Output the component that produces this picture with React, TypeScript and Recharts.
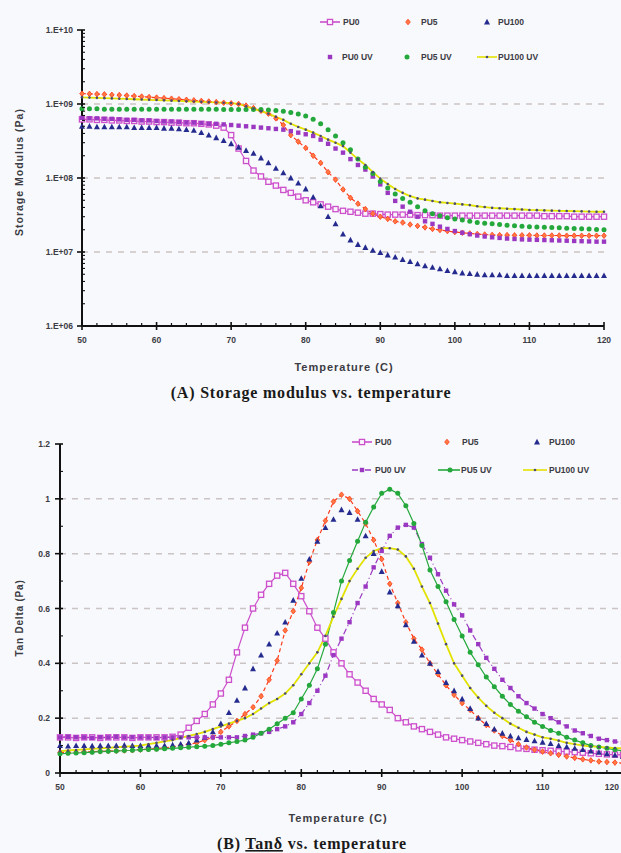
import React from "react";
import { LineChart, Line, XAxis, YAxis, ReferenceLine } from "recharts";

// temperature (C), one reading per degree
const TEMPS = [
  50, 51, 52, 53, 54, 55, 56, 57, 58, 59,
  60, 61, 62, 63, 64, 65, 66, 67, 68, 69,
  70, 71, 72, 73, 74, 75, 76, 77, 78, 79,
  80, 81, 82, 83, 84, 85, 86, 87, 88, 89,
  90, 91, 92, 93, 94, 95, 96, 97, 98, 99,
  100, 101, 102, 103, 104, 105, 106, 107, 108, 109,
  110, 111, 112, 113, 114, 115, 116, 117, 118, 119,
  120,
];

// (A) storage modulus, Pa
const E_PU0 = [
  6.2e8, 6.2e8, 6.1e8, 6.1e8, 6.0e8, 6.0e8, 5.9e8, 5.9e8, 5.8e8, 5.8e8,
  5.7e8, 5.7e8, 5.6e8, 5.6e8, 5.5e8, 5.5e8, 5.4e8, 5.3e8, 5.1e8, 4.8e8,
  3.8e8, 2.5e8, 1.7e8, 1.26e8, 1.05e8, 8.9e7, 7.9e7, 6.9e7, 6.3e7, 5.6e7,
  5.0e7, 4.7e7, 4.4e7, 4.1e7, 3.8e7, 3.6e7, 3.5e7, 3.4e7, 3.3e7, 3.3e7,
  3.25e7, 3.2e7, 3.2e7, 3.2e7, 3.2e7, 3.15e7, 3.15e7, 3.15e7, 3.1e7, 3.1e7,
  3.1e7, 3.1e7, 3.1e7, 3.1e7, 3.1e7, 3.1e7, 3.1e7, 3.1e7, 3.1e7, 3.1e7,
  3.1e7, 3.1e7, 3.05e7, 3.05e7, 3.05e7, 3.05e7, 3.0e7, 3.0e7, 3.0e7, 3.0e7,
  3.0e7,
];
const E_PU5 = [
  1.38e9, 1.37e9, 1.36e9, 1.35e9, 1.33e9, 1.32e9, 1.3e9, 1.28e9, 1.26e9, 1.24e9,
  1.22e9, 1.2e9, 1.18e9, 1.16e9, 1.14e9, 1.12e9, 1.1e9, 1.08e9, 1.06e9, 1.04e9,
  1.02e9, 1.0e9, 9.5e8, 8.8e8, 8.1e8, 7.4e8, 6.4e8, 5.2e8, 3.8e8, 3.1e8,
  2.55e8, 2.0e8, 1.6e8, 1.2e8, 9.5e7, 7.0e7, 5.4e7, 4.5e7, 3.8e7, 3.3e7,
  3.0e7, 2.8e7, 2.6e7, 2.5e7, 2.35e7, 2.25e7, 2.15e7, 2.05e7, 1.98e7, 1.92e7,
  1.86e7, 1.82e7, 1.78e7, 1.75e7, 1.72e7, 1.7e7, 1.69e7, 1.69e7, 1.68e7, 1.68e7,
  1.68e7, 1.67e7, 1.67e7, 1.67e7, 1.67e7, 1.66e7, 1.66e7, 1.66e7, 1.66e7, 1.66e7,
  1.66e7,
];
const E_PU100 = [
  5.0e8, 5.0e8, 4.9e8, 4.9e8, 4.9e8, 4.9e8, 4.9e8, 4.8e8, 4.8e8, 4.8e8,
  4.8e8, 4.7e8, 4.7e8, 4.6e8, 4.5e8, 4.4e8, 4.1e8, 3.8e8, 3.5e8, 3.2e8,
  2.9e8, 2.6e8, 2.35e8, 2.15e8, 1.86e8, 1.6e8, 1.35e8, 1.17e8, 1.0e8, 8.5e7,
  7.1e7, 5.5e7, 4.2e7, 3.0e7, 2.4e7, 1.74e7, 1.45e7, 1.26e7, 1.15e7, 1.05e7,
  9.8e6, 9.1e6, 8.5e6, 7.9e6, 7.4e6, 6.9e6, 6.5e6, 6.2e6, 5.9e6, 5.6e6,
  5.4e6, 5.2e6, 5.1e6, 5.0e6, 4.9e6, 4.9e6, 4.9e6, 4.8e6, 4.8e6, 4.8e6,
  4.8e6, 4.8e6, 4.8e6, 4.8e6, 4.8e6, 4.8e6, 4.8e6, 4.8e6, 4.8e6, 4.8e6,
  4.8e6,
];
const E_PU0UV = [
  6.5e8, 6.4e8, 6.4e8, 6.3e8, 6.3e8, 6.2e8, 6.1e8, 6.1e8, 6.0e8, 6.0e8,
  5.9e8, 5.8e8, 5.8e8, 5.7e8, 5.6e8, 5.6e8, 5.5e8, 5.4e8, 5.4e8, 5.3e8,
  5.2e8, 5.1e8, 5.0e8, 4.9e8, 4.8e8, 4.7e8, 4.6e8, 4.5e8, 4.3e8, 4.1e8,
  3.9e8, 3.7e8, 3.3e8, 2.9e8, 2.5e8, 2.2e8, 1.8e8, 1.5e8, 1.3e8, 1.05e8,
  8.2e7, 6.3e7, 4.9e7, 4.1e7, 3.5e7, 3.0e7, 2.6e7, 2.4e7, 2.2e7, 2.05e7,
  1.92e7, 1.82e7, 1.74e7, 1.67e7, 1.62e7, 1.58e7, 1.55e7, 1.52e7, 1.5e7, 1.48e7,
  1.47e7, 1.46e7, 1.45e7, 1.44e7, 1.43e7, 1.42e7, 1.41e7, 1.4e7, 1.39e7, 1.38e7,
  1.38e7,
];
const E_PU5UV = [
  8.6e8, 8.6e8, 8.6e8, 8.5e8, 8.5e8, 8.5e8, 8.5e8, 8.5e8, 8.5e8, 8.5e8,
  8.5e8, 8.5e8, 8.5e8, 8.5e8, 8.5e8, 8.5e8, 8.5e8, 8.5e8, 8.5e8, 8.4e8,
  8.4e8, 8.4e8, 8.4e8, 8.4e8, 8.4e8, 8.3e8, 8.2e8, 8.0e8, 7.7e8, 7.3e8,
  6.9e8, 6.2e8, 5.4e8, 4.5e8, 3.7e8, 3.0e8, 2.4e8, 1.8e8, 1.4e8, 1.15e8,
  9.0e7, 7.3e7, 6.1e7, 5.3e7, 4.7e7, 4.1e7, 3.6e7, 3.3e7, 3.1e7, 2.9e7,
  2.8e7, 2.7e7, 2.6e7, 2.5e7, 2.45e7, 2.4e7, 2.35e7, 2.3e7, 2.26e7, 2.22e7,
  2.2e7, 2.18e7, 2.16e7, 2.14e7, 2.12e7, 2.1e7, 2.08e7, 2.06e7, 2.04e7, 2.02e7,
  2.0e7,
];
const E_PU100UV = [
  1.23e9, 1.22e9, 1.21e9, 1.2e9, 1.19e9, 1.18e9, 1.17e9, 1.16e9, 1.15e9, 1.14e9,
  1.13e9, 1.12e9, 1.11e9, 1.1e9, 1.09e9, 1.08e9, 1.07e9, 1.06e9, 1.05e9, 1.04e9,
  1.03e9, 1.0e9, 9.3e8, 8.6e8, 8.0e8, 7.4e8, 6.7e8, 6.1e8, 5.4e8, 4.9e8,
  4.5e8, 4.1e8, 3.7e8, 3.3e8, 3.0e8, 2.7e8, 2.2e8, 1.8e8, 1.5e8, 1.2e8,
  9.8e7, 8.3e7, 7.1e7, 6.3e7, 5.7e7, 5.3e7, 5.1e7, 4.9e7, 4.7e7, 4.6e7,
  4.5e7, 4.4e7, 4.3e7, 4.15e7, 4.05e7, 3.95e7, 3.9e7, 3.85e7, 3.8e7, 3.75e7,
  3.7e7, 3.68e7, 3.65e7, 3.62e7, 3.6e7, 3.58e7, 3.56e7, 3.54e7, 3.52e7, 3.5e7,
  3.5e7,
];

// (B) tan delta
const T_PU0 = [
  0.13, 0.13, 0.128, 0.13, 0.13, 0.128, 0.13, 0.13, 0.13, 0.128,
  0.13, 0.13, 0.13, 0.13, 0.132, 0.14, 0.165, 0.19, 0.215, 0.25,
  0.29, 0.34, 0.44, 0.53, 0.6, 0.65, 0.69, 0.72, 0.73, 0.69,
  0.645, 0.59, 0.53, 0.49, 0.44, 0.4, 0.36, 0.33, 0.3, 0.27,
  0.25, 0.23, 0.2, 0.185, 0.17, 0.16, 0.15, 0.14, 0.13, 0.125,
  0.12, 0.115, 0.11, 0.105, 0.1, 0.098, 0.095, 0.09, 0.088, 0.085,
  0.083, 0.081, 0.079, 0.078, 0.076, 0.074, 0.072, 0.07, 0.068, 0.067,
  0.066,
];
const T_PU5 = [
  0.075, 0.075, 0.076, 0.077, 0.078, 0.079, 0.08, 0.081, 0.082, 0.083,
  0.085, 0.087, 0.089, 0.092, 0.095, 0.1, 0.105, 0.11, 0.12, 0.13,
  0.15, 0.17, 0.19, 0.215, 0.24, 0.28, 0.34, 0.41, 0.52, 0.59,
  0.675, 0.77, 0.85, 0.92, 0.99, 1.015, 1.0, 0.955, 0.91, 0.85,
  0.78, 0.69, 0.62, 0.55, 0.49, 0.45, 0.4, 0.36, 0.32, 0.285,
  0.255, 0.23, 0.2, 0.175, 0.155, 0.135, 0.12, 0.105, 0.093, 0.085,
  0.078, 0.072, 0.066, 0.06, 0.055, 0.05, 0.046, 0.042, 0.04, 0.038,
  0.036,
];
const T_PU100 = [
  0.1, 0.098, 0.1, 0.1, 0.099, 0.1, 0.1, 0.1, 0.101, 0.1,
  0.1, 0.1, 0.1, 0.1, 0.102, 0.105, 0.11, 0.12, 0.13, 0.15,
  0.18, 0.22, 0.265, 0.31, 0.38, 0.43, 0.47, 0.51, 0.55, 0.63,
  0.71, 0.78, 0.845, 0.895, 0.925, 0.96, 0.95, 0.925, 0.865, 0.8,
  0.735, 0.66, 0.61, 0.54, 0.48, 0.43, 0.4, 0.37, 0.33, 0.3,
  0.27, 0.235, 0.2, 0.18, 0.16, 0.145, 0.135, 0.128, 0.122, 0.117,
  0.112, 0.107, 0.1, 0.095, 0.09, 0.085, 0.08, 0.075, 0.07, 0.065,
  0.06,
];
const T_PU0UV = [
  0.13, 0.132, 0.13, 0.13, 0.128, 0.13, 0.13, 0.132, 0.13, 0.13,
  0.13, 0.13, 0.128, 0.13, 0.13, 0.13, 0.13, 0.13, 0.13, 0.13,
  0.13, 0.13, 0.13, 0.135, 0.14, 0.145, 0.15, 0.16, 0.17, 0.185,
  0.215, 0.255, 0.3, 0.355, 0.43, 0.49, 0.55, 0.62, 0.68, 0.75,
  0.81, 0.865, 0.895, 0.905, 0.895, 0.835, 0.785, 0.725, 0.665, 0.615,
  0.575, 0.52, 0.47, 0.42, 0.38, 0.34, 0.31, 0.28, 0.255, 0.235,
  0.215, 0.2, 0.185, 0.17, 0.155, 0.145, 0.135, 0.125, 0.12, 0.115,
  0.11,
];
const T_PU5UV = [
  0.07, 0.072, 0.073, 0.074, 0.076, 0.078, 0.079, 0.08, 0.082, 0.083,
  0.085, 0.086, 0.087, 0.088, 0.09, 0.092, 0.094, 0.096, 0.098, 0.1,
  0.105, 0.11, 0.115, 0.12, 0.13, 0.145, 0.16, 0.18, 0.2, 0.22,
  0.27, 0.32, 0.38, 0.47, 0.585, 0.7, 0.775, 0.845, 0.915, 0.97,
  1.02, 1.035, 1.02, 0.975, 0.91, 0.83, 0.74, 0.68, 0.625, 0.56,
  0.5, 0.44, 0.395, 0.35, 0.315, 0.28, 0.25, 0.225, 0.205, 0.185,
  0.17, 0.155, 0.145, 0.13, 0.12, 0.11, 0.1, 0.095, 0.09, 0.085,
  0.08,
];
const T_PU100UV = [
  0.08, 0.082, 0.084, 0.086, 0.088, 0.09, 0.092, 0.094, 0.096, 0.098,
  0.1, 0.105, 0.11, 0.115, 0.12, 0.128, 0.135, 0.142, 0.15, 0.16,
  0.17, 0.18, 0.19, 0.2, 0.215, 0.235, 0.255, 0.27, 0.29, 0.32,
  0.36, 0.4, 0.44, 0.5, 0.57, 0.635, 0.7, 0.745, 0.785, 0.81,
  0.82, 0.82, 0.815, 0.79, 0.745, 0.68, 0.62, 0.545, 0.47, 0.4,
  0.355, 0.31, 0.275, 0.245, 0.22, 0.2, 0.18, 0.165, 0.15, 0.14,
  0.13, 0.125, 0.118, 0.11, 0.105, 0.1, 0.097, 0.095, 0.093, 0.091,
  0.09,
];

// axis ticks
const TEMP_TICKS = [50, 52, 54, 56, 58, 60, 62, 64, 66, 68, 70, 72, 74, 76, 78, 80, 82, 84, 86, 88, 90, 92, 94, 96, 98, 100, 102, 104, 106, 108, 110, 112, 114, 116, 118, 120];
const MODULUS_TICKS = [
  1e6, 2e6, 3e6, 4e6, 5e6, 6e6, 7e6, 8e6, 9e6,
  1e7, 2e7, 3e7, 4e7, 5e7, 6e7, 7e7, 8e7, 9e7,
  1e8, 2e8, 3e8, 4e8, 5e8, 6e8, 7e8, 8e8, 9e8,
  1e9, 2e9, 3e9, 4e9, 5e9, 6e9, 7e9, 8e9, 9e9,
  1e10,
];
const MODULUS_GRID = [1e7, 1e8, 1e9];
const TAN_TICKS = [0, 0.1, 0.2, 0.3, 0.4, 0.5, 0.6, 0.7, 0.8, 0.9, 1, 1.1, 1.2];
const TAN_GRID = [0.2, 0.4, 0.6, 0.8, 1];

const SERIES = [
  { key: "pu0", name: "PU0", color: "#cc4fcc", marker: "sqOpen", dash: undefined, lineA: true, lineB: true },
  { key: "pu5", name: "PU5", color: "#ff3a1a", marker: "diamond", dash: "4 3", lineA: true, lineB: true },
  { key: "pu100", name: "PU100", color: "#252b8e", marker: "tri", dash: undefined, lineA: false, lineB: false },
  { key: "pu0uv", name: "PU0 UV", color: "#9b38c2", marker: "sq", dash: "6 3 1 3", lineA: false, lineB: true },
  { key: "pu5uv", name: "PU5 UV", color: "#24a83c", marker: "circle", dash: undefined, lineA: false, lineB: true },
  { key: "pu100uv", name: "PU100 UV", color: "#e2e200", marker: "dot", dash: undefined, lineA: true, lineB: true },
];

const modulusRows = TEMPS.map((t, i) => ({
  t,
  pu0: E_PU0[i],
  pu5: E_PU5[i],
  pu100: E_PU100[i],
  pu0uv: E_PU0UV[i],
  pu5uv: E_PU5UV[i],
  pu100uv: E_PU100UV[i],
}));

const tanRows = TEMPS.map((t, i) => ({
  t,
  pu0: T_PU0[i],
  pu5: T_PU5[i],
  pu100: T_PU100[i],
  pu0uv: T_PU0UV[i],
  pu5uv: T_PU5UV[i],
  pu100uv: T_PU100UV[i],
}));

const SANS = '"Liberation Sans", Arial, sans-serif';
const SERIF = '"Liberation Serif", "Times New Roman", serif';
const INK = "#3c3c44";

function Marker({ kind, cx, cy, color }: { kind: string; cx: number; cy: number; color: string }) {
  switch (kind) {
    case "sqOpen":
      return <rect x={cx - 2.6} y={cy - 2.6} width={5.2} height={5.2} fill="#fbf4fb" stroke={color} strokeWidth={1.3} />;
    case "diamond":
      return <path d={`M${cx},${cy - 2.8}L${cx + 2.3},${cy}L${cx},${cy + 2.8}L${cx - 2.3},${cy}Z`} fill="#ff7a40" stroke={color} strokeWidth={0.8} />;
    case "tri":
      return <path d={`M${cx},${cy - 3.2}L${cx + 3},${cy + 2.4}L${cx - 3},${cy + 2.4}Z`} fill={color} />;
    case "sq":
      return <rect x={cx - 2.2} y={cy - 2.2} width={4.4} height={4.4} fill={color} />;
    case "circle":
      return <circle cx={cx} cy={cy} r={2.5} fill={color} />;
    default:
      return <circle cx={cx} cy={cy} r={1.3} fill="#4a4a70" />;
  }
}

const dotFor = (kind: string, color: string) => (p: any) => {
  if (p.cx == null || p.cy == null) return <g key={p.index} />;
  return (
    <g key={p.index}>
      <Marker kind={kind} cx={p.cx} cy={p.cy} color={color} />
    </g>
  );
};

// maxX keeps the last label inside the picture when the axis runs to the edge
const TempTick = (props: any) => {
  const { x, y, payload, maxX } = props;
  const v = payload.value as number;
  const major = v % 10 === 0;
  const clamp = maxX != null && x + 8 > maxX;
  return (
    <g>
      <line x1={x} x2={x} y1={major ? y - 4 : y - 3} y2={major ? y + 4 : y} stroke="#111" strokeWidth={major ? 1.6 : 1.2} />
      {major && (
        <text
          x={clamp ? maxX : x}
          y={y + 17}
          textAnchor={clamp ? "end" : "middle"}
          fontSize={8.5}
          fontWeight="bold"
          fill={INK}
          fontFamily={SANS}
        >
          {v}
        </text>
      )}
    </g>
  );
};

const LogTick = (props: any) => {
  const { x, y, payload } = props;
  const v = payload.value as number;
  const lg = Math.log10(v);
  const exp = Math.round(lg);
  const major = Math.abs(lg - exp) < 1e-6;
  return (
    <g>
      {major ? (
        <line x1={x - 5} x2={x + 3} y1={y} y2={y} stroke="#111" strokeWidth={1.6} />
      ) : (
        <line x1={x} x2={x + 3} y1={y} y2={y} stroke="#111" strokeWidth={1.1} />
      )}
      {major && (
        <text x={x - 9} y={y + 3} textAnchor="end" fontSize={8.5} fontWeight="bold" fill={INK} fontFamily={SANS}>
          {`1.E+${String(exp).padStart(2, "0")}`}
        </text>
      )}
    </g>
  );
};

const TanTick = (props: any) => {
  const { x, y, payload } = props;
  const v = payload.value as number;
  const major = Math.round(v * 10) % 2 === 0;
  const label = v === 0 ? "0" : v === 1 ? "1" : v.toFixed(1);
  return (
    <g>
      {major ? (
        <line x1={x - 5} x2={x + 3} y1={y} y2={y} stroke="#111" strokeWidth={1.6} />
      ) : (
        <line x1={x} x2={x + 3} y1={y} y2={y} stroke="#111" strokeWidth={1.1} />
      )}
      {major && (
        <text x={x - 10} y={y + 3} textAnchor="end" fontSize={8.5} fontWeight="bold" fill={INK} fontFamily={SANS}>
          {label}
        </text>
      )}
    </g>
  );
};

function LegendItem({ s, x, y, lineFrom, lineTo, withLine, markerX }: any) {
  return (
    <g>
      {withLine && (
        <line x1={lineFrom} x2={lineTo} y1={y} y2={y} stroke={s.color} strokeWidth={1.6} strokeDasharray={s.dash} />
      )}
      <Marker kind={s.marker} cx={markerX} cy={y} color={s.color} />
      <text x={x} y={y + 3} fontSize={8.5} fontWeight="bold" fill={INK} fontFamily={SANS}>
        {s.name}
      </text>
    </g>
  );
}

function renderLines(which: "A" | "B") {
  return SERIES.map((s) => {
    const showLine = which === "A" ? s.lineA : s.lineB;
    return (
      <Line
        key={s.key}
        type="linear"
        dataKey={s.key}
        name={s.name}
        stroke={showLine ? s.color : "none"}
        strokeWidth={s.key === "pu100uv" ? 1.8 : 1.2}
        strokeDasharray={s.dash}
        dot={dotFor(s.marker, s.color)}
        activeDot={false}
        isAnimationActive={false}
      />
    );
  });
}

export default function App() {
  const [pu0, pu5, pu100, pu0uv, pu5uv, pu100uv] = SERIES;
  return (
    <div
      style={{
        position: "absolute",
        left: 0,
        top: 0,
        width: 621,
        height: 853,
        overflow: "hidden",
        background: "#f8f9fc",
        fontFamily: SANS,
      }}
    >
      <div style={{ position: "absolute", left: 0, top: 0 }}>
        <LineChart width={621} height={360} data={modulusRows} margin={{ top: 30, right: 17, bottom: 0, left: 0 }}>
          {MODULUS_GRID.map((g) => (
            <ReferenceLine key={g} y={g} stroke="#cbc4c4" strokeWidth={1.5} strokeDasharray="6 6" />
          ))}
          <XAxis
            dataKey="t"
            type="number"
            domain={[50, 120]}
            ticks={TEMP_TICKS}
            interval={0}
            height={34}
            tickSize={0}
            tickMargin={0}
            tick={TempTick}
            axisLine={{ stroke: "#111", strokeWidth: 2 }}
            tickLine={false}
          />
          <YAxis
            type="number"
            scale="log"
            domain={[1e6, 1e10]}
            allowDataOverflow
            ticks={MODULUS_TICKS}
            interval={0}
            width={82}
            tickSize={0}
            tickMargin={0}
            tick={LogTick}
            axisLine={{ stroke: "#111", strokeWidth: 2 }}
            tickLine={false}
          />
          {renderLines("A")}
        </LineChart>
      </div>

      <div style={{ position: "absolute", left: 0, top: 410 }}>
        <LineChart width={624} height={393} data={tanRows} margin={{ top: 34, right: 1, bottom: 0, left: 0 }}>
          {TAN_GRID.map((g) => (
            <ReferenceLine key={g} y={g} stroke="#cbc4c4" strokeWidth={1.5} strokeDasharray="6 6" />
          ))}
          <XAxis
            dataKey="t"
            type="number"
            domain={[50, 120]}
            ticks={TEMP_TICKS}
            interval={0}
            height={30}
            tickSize={0}
            tickMargin={0}
            tick={(p: any) => <TempTick {...p} maxX={619} />}
            axisLine={{ stroke: "#111", strokeWidth: 2 }}
            tickLine={false}
          />
          <YAxis
            type="number"
            domain={[0, 1.2]}
            ticks={TAN_TICKS}
            interval={0}
            width={60}
            tickSize={0}
            tickMargin={0}
            tick={TanTick}
            axisLine={{ stroke: "#111", strokeWidth: 2 }}
            tickLine={false}
          />
          {renderLines("B")}
        </LineChart>
      </div>

      <svg width={621} height={853} style={{ position: "absolute", left: 0, top: 0, pointerEvents: "none" }}>
        {/* legend (A) */}
        <LegendItem s={pu0} x={343} y={22} markerX={330} withLine lineFrom={320} lineTo={340} />
        <LegendItem s={pu5} x={421} y={22} markerX={408} />
        <LegendItem s={pu100} x={498} y={22} markerX={487} />
        <LegendItem s={pu0uv} x={342} y={57} markerX={330} />
        <LegendItem s={pu5uv} x={421} y={57} markerX={407} />
        <LegendItem s={pu100uv} x={498} y={57} markerX={487} withLine lineFrom={477} lineTo={497} />

        {/* legend (B) */}
        <LegendItem s={pu0} x={375} y={442} markerX={362} withLine lineFrom={352} lineTo={372} />
        <LegendItem s={pu5} x={462} y={442} markerX={447} />
        <LegendItem s={pu100} x={549} y={442} markerX={537} />
        <LegendItem s={pu0uv} x={375} y={470} markerX={362} withLine lineFrom={352} lineTo={372} />
        <LegendItem s={pu5uv} x={461} y={470} markerX={450} withLine lineFrom={438} lineTo={460} />
        <LegendItem s={pu100uv} x={549} y={470} markerX={535} withLine lineFrom={523} lineTo={547} />

        {/* axis titles */}
        <text transform="translate(23,172) rotate(-90)" textAnchor="middle" fontSize={10.5} fontWeight="bold" letterSpacing={1} fill={INK} fontFamily={SANS}>
          Storage Modulus (Pa)
        </text>
        <text x={344} y={371} textAnchor="middle" fontSize={11} fontWeight="bold" letterSpacing={1} fill={INK} fontFamily={SANS}>
          Temperature (C)
        </text>
        <text transform="translate(23,618) rotate(-90)" textAnchor="middle" fontSize={10} fontWeight="bold" letterSpacing={0.8} fill={INK} fontFamily={SANS}>
          Tan Delta (Pa)
        </text>
        <text x={338} y={822} textAnchor="middle" fontSize={11} fontWeight="bold" letterSpacing={1} fill={INK} fontFamily={SANS}>
          Temperature (C)
        </text>

        {/* captions */}
        <text x={311} y={398} textAnchor="middle" fontSize={16} fontWeight="bold" letterSpacing={0.8} fill="#1a1a1a" fontFamily={SERIF}>
          (A) Storage modulus vs. temperature
        </text>
        <text x={312} y={849} textAnchor="middle" fontSize={16} fontWeight="bold" letterSpacing={0.8} fill="#1a1a1a" fontFamily={SERIF}>
          (B) <tspan textDecoration="underline">Tanδ</tspan> vs. temperature
        </text>
      </svg>
    </div>
  );
}
